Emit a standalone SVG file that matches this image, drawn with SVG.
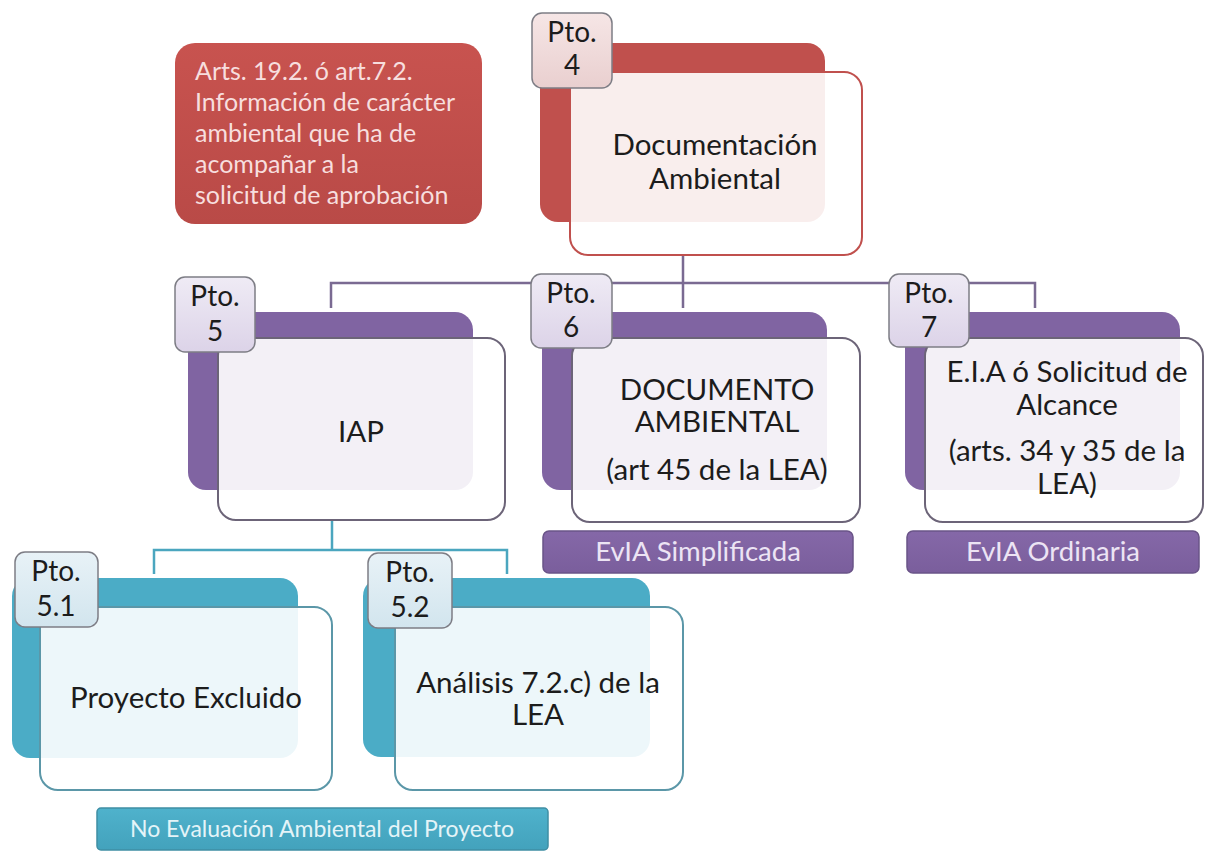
<svg xmlns="http://www.w3.org/2000/svg" width="1205" height="856" viewBox="0 0 1205 856">
<defs>
<linearGradient id="gRedLbl" x1="0" y1="0" x2="0" y2="1"><stop offset="0" stop-color="#f6e6e6"/><stop offset="1" stop-color="#e9cfcf"/></linearGradient>
<linearGradient id="gPurLbl" x1="0" y1="0" x2="0" y2="1"><stop offset="0" stop-color="#efebf5"/><stop offset="1" stop-color="#dcd3e8"/></linearGradient>
<linearGradient id="gTealLbl" x1="0" y1="0" x2="0" y2="1"><stop offset="0" stop-color="#e8f2f7"/><stop offset="1" stop-color="#d2e5ee"/></linearGradient>
<linearGradient id="gRed" x1="0" y1="0" x2="0" y2="1"><stop offset="0" stop-color="#c8534f"/><stop offset="1" stop-color="#b94a47"/></linearGradient>
<linearGradient id="gPurBar" x1="0" y1="0" x2="0" y2="1"><stop offset="0" stop-color="#8568a8"/><stop offset="1" stop-color="#7a5e9c"/></linearGradient>
<linearGradient id="gTealBar" x1="0" y1="0" x2="0" y2="1"><stop offset="0" stop-color="#4fb2cc"/><stop offset="1" stop-color="#43a2bc"/></linearGradient>
</defs>
<style>
.t{font-family:Lato,"Liberation Sans",sans-serif;fill:#1c1c1c;text-anchor:middle}
.n{font-size:29.5px}
.lb{font-size:28px}
.info{font-family:Lato,"Liberation Sans",sans-serif;font-size:25px;fill:#f7dede}
.bar{font-family:Lato,"Liberation Sans",sans-serif;font-size:27.5px;text-anchor:middle}
.front{fill:#ffffff;fill-opacity:0.9;stroke-width:2}
.lbl{stroke:#7d7d85;stroke-width:1.5}
.cP{fill:none;stroke:#7a6a92;stroke-width:2.5}
.cT{fill:none;stroke:#4ba6bf;stroke-width:2.5}
</style>
<rect width="1205" height="856" fill="#ffffff"/>

<g id="connectors">
<path class="cP" d="M683 255V308M331 308V283H1035V308"/>
<path class="cT" d="M332 520V550M154 574V550H507V574"/>
</g>

<g id="info">
<rect x="175" y="43" width="307" height="181" rx="20" fill="url(#gRed)"/>
<text class="info" x="195" y="80">Arts. 19.2. ó art.7.2.</text>
<text class="info" x="195" y="111">Información de carácter</text>
<text class="info" x="195" y="142">ambiental que ha de</text>
<text class="info" x="195" y="173">acompañar a la</text>
<text class="info" x="195" y="204">solicitud de aprobación</text>
</g>

<g id="pto4">
<rect x="540" y="43" width="285" height="179" rx="18" fill="#c0504d"/>
<rect class="front" x="570" y="72" width="292" height="183" rx="18" stroke="#c0504d"/>
<rect class="lbl" x="532" y="13" width="80" height="75" rx="10" fill="url(#gRedLbl)"/>
<text class="t lb" x="572" y="42">Pto.</text>
<text class="t lb" x="572" y="75">4</text>
<text class="t n" x="715" y="155">Documentación</text>
<text class="t n" x="715" y="189">Ambiental</text>
</g>

<g id="pto5">
<rect x="188" y="312" width="285" height="178" rx="18" fill="#8064a2"/>
<rect class="front" x="218" y="338" width="287" height="182" rx="18" stroke="#6c6478"/>
<rect class="lbl" x="175" y="277" width="80" height="75" rx="10" fill="url(#gPurLbl)"/>
<text class="t lb" x="215" y="306">Pto.</text>
<text class="t lb" x="215" y="341">5</text>
<text class="t n" x="361" y="442">IAP</text>
</g>

<g id="pto6">
<rect x="542" y="312" width="285" height="178" rx="18" fill="#8064a2"/>
<rect class="front" x="572" y="338" width="288" height="184" rx="18" stroke="#6c6478"/>
<rect class="lbl" x="531" y="274" width="81" height="74" rx="10" fill="url(#gPurLbl)"/>
<text class="t lb" x="571" y="303">Pto.</text>
<text class="t lb" x="571" y="337">6</text>
<text class="t n" x="717" y="400">DOCUMENTO</text>
<text class="t n" x="717" y="432">AMBIENTAL</text>
<text class="t n" x="717" y="480">(art 45 de la LEA)</text>
</g>

<g id="bar6">
<rect x="543" y="531" width="310" height="42" rx="6" fill="url(#gPurBar)" stroke="#6a5488" stroke-width="1.5"/>
<text class="bar" x="698" y="561" fill="#ece4f4">EvIA Simplificada</text>
</g>

<g id="pto7">
<rect x="905" y="312" width="275" height="178" rx="18" fill="#8064a2"/>
<rect class="front" x="925" y="338" width="278" height="184" rx="18" stroke="#6c6478"/>
<rect class="lbl" x="889" y="274" width="80" height="73" rx="10" fill="url(#gPurLbl)"/>
<text class="t lb" x="929" y="303">Pto.</text>
<text class="t lb" x="929" y="337">7</text>
<text class="t n" x="1067" y="382">E.I.A ó Solicitud de</text>
<text class="t n" x="1067" y="415">Alcance</text>
<text class="t n" x="1067" y="461">(arts. 34 y 35 de la</text>
<text class="t n" x="1067" y="494">LEA)</text>
</g>

<g id="bar7">
<rect x="907" y="531" width="292" height="42" rx="6" fill="url(#gPurBar)" stroke="#6a5488" stroke-width="1.5"/>
<text class="bar" x="1053" y="561" fill="#ece4f4">EvIA Ordinaria</text>
</g>

<g id="pto51">
<rect x="12" y="578" width="286" height="180" rx="18" fill="#4bacc6"/>
<rect class="front" x="40" y="607" width="292" height="183" rx="18" stroke="#5b97a8"/>
<rect class="lbl" x="15" y="552" width="83" height="75" rx="10" fill="url(#gTealLbl)"/>
<text class="t lb" x="56" y="581">Pto.</text>
<text class="t lb" x="56" y="616">5.1</text>
<text class="t n" x="186" y="708">Proyecto Excluido</text>
</g>

<g id="pto52">
<rect x="363" y="578" width="287" height="179" rx="18" fill="#4bacc6"/>
<rect class="front" x="395" y="607" width="288" height="183" rx="18" stroke="#5b97a8"/>
<rect class="lbl" x="368" y="553" width="84" height="75" rx="10" fill="url(#gTealLbl)"/>
<text class="t lb" x="410" y="582">Pto.</text>
<text class="t lb" x="410" y="617">5.2</text>
<text class="t n" x="538" y="693">Análisis 7.2.c) de la</text>
<text class="t n" x="538" y="725">LEA</text>
</g>

<g id="bar5">
<rect x="97" y="808" width="451" height="42" rx="4" fill="url(#gTealBar)" stroke="#3f8ea4" stroke-width="1.5"/>
<text class="bar" x="322" y="837" fill="#e4f4f8" style="font-size:23px">No Evaluación Ambiental del Proyecto</text>
</g>
</svg>
